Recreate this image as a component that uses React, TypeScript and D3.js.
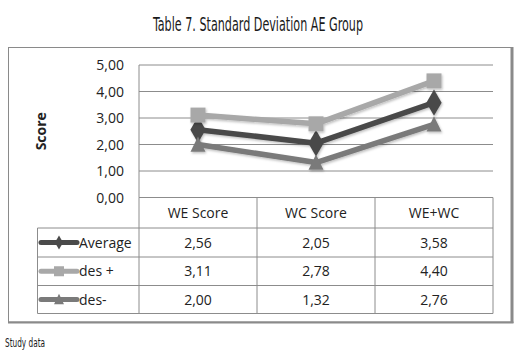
import React from "react";
import * as d3 from "d3";

const categories = ["WE Score", "WC Score", "WE+WC"];
const seriesNames = ["Average", "des +", "des-"];
const averageValues = [2.56, 2.05, 3.58];
const desPlusValues = [3.11, 2.78, 4.4];
const desMinusValues = [2.0, 1.32, 2.76];
const yTicks = [0, 1, 2, 3, 4, 5];

const seriesValues = [averageValues, desPlusValues, desMinusValues];
const colors = ["#4a4a4a", "#a8a8a8", "#7a7a7a"];
const markers = ["diamond", "square", "triangle"];

const fmt = (v: number) => v.toFixed(2).replace(".", ",");

export default function App() {
  const W = 521, H = 359;
  const plotL = 139, plotR = 493, plotT = 65, plotB = 197.5;
  const x = d3.scaleBand<string>().domain(categories).range([plotL, plotR]);
  const y = d3.scaleLinear().domain([0, 5]).range([plotB, plotT]);
  const rowEdges = [197.5, 228, 257, 285.5, 313.5];
  const legendL = 37.5;
  const font = "Open Sans, 'Noto Sans', sans-serif";
  const line = d3
    .line<number>()
    .x((_, i) => (x(categories[i]) as number) + x.bandwidth() / 2)
    .y((d) => y(d));

  const marker = (type: string, cx: number, cy: number, color: string, s: number, key: string) => {
    if (type === "diamond") {
      const sym = d3.symbol(d3.symbolDiamond, s * s * 0.9)();
      return <path key={key} d={sym as string} transform={`translate(${cx},${cy})`} fill={color} />;
    }
    if (type === "square") {
      return <rect key={key} x={cx - s / 2} y={cy - s / 2} width={s} height={s} fill={color} />;
    }
    const h = s * 0.95;
    return (
      <path
        key={key}
        d={`M${cx},${cy - h / 2 - 1}L${cx + s / 2},${cy + h / 2}L${cx - s / 2},${cy + h / 2}Z`}
        fill={color}
      />
    );
  };

  return (
    <svg
      width={W}
      height={H}
      style={{ position: "absolute", left: 0, top: 0, background: "#fff" }}
    >
      <defs>
        <filter id="sh" x="-20%" y="-20%" width="140%" height="140%">
          <feDropShadow dx="1" dy="1.5" stdDeviation="1.2" floodColor="#000" floodOpacity="0.25" />
        </filter>
      </defs>
      <text
        x={258}
        y={31}
        textAnchor="middle"
        fontFamily="'DejaVu Sans Condensed', 'DejaVu Sans', sans-serif"
        fontStretch="condensed"
        fontSize={19}
        textLength={210}
        lengthAdjust="spacingAndGlyphs"
        fill="#1a1a1a"
      >
        Table 7. Standard Deviation AE Group
      </text>

      {/* outer frame */}
      <rect x={8.5} y={47.5} width={503} height={274.5} fill="none" stroke="#8a8a8a" strokeWidth={1} />
      <line x1={512} y1={47} x2={512} y2={323} stroke="#8a8a8a" strokeWidth={3} />
      <line x1={8} y1={322.5} x2={513.5} y2={322.5} stroke="#8a8a8a" strokeWidth={2} />

      {/* gridlines */}
      {yTicks.map((t) => (
        <line key={t} x1={plotL} x2={plotR} y1={y(t)} y2={y(t)} stroke="#8c8c8c" strokeWidth={1} />
      ))}
      <line x1={plotL} x2={plotL} y1={plotT} y2={plotB} stroke="#8c8c8c" strokeWidth={1} />

      {/* y tick labels */}
      {yTicks.map((t) => (
        <text key={t} x={124} y={y(t) + 5} textAnchor="end" fontFamily={font} fontSize={14} fill="#222">
          {fmt(t)}
        </text>
      ))}
      <text
        transform={`translate(46,${(plotT + plotB) / 2}) rotate(-90)`}
        textAnchor="middle"
        fontFamily={font}
        fontWeight="bold"
        fontSize={14}
        fill="#222"
      >
        Score
      </text>

      {/* series */}
      {seriesValues.map((vals, si) => (
        <g key={si} filter="url(#sh)">
          <path d={line(vals) as string} fill="none" stroke={colors[si]} strokeWidth={5.5} strokeLinejoin="round" />
          {vals.map((v, i) =>
            marker(markers[si], (x(categories[i]) as number) + x.bandwidth() / 2, y(v), colors[si], 15, `${si}-${i}`)
          )}
        </g>
      ))}

      {/* table */}
      <g stroke="#8c8c8c" strokeWidth={1} fill="none">
        {rowEdges.map((ry, i) => (
          <line key={i} x1={i === 0 ? plotL : legendL} x2={plotR} y1={ry} y2={ry} />
        ))}
        <line x1={legendL} x2={legendL} y1={rowEdges[1]} y2={rowEdges[4]} />
        {[plotL, ...categories.map((c) => (x(c) as number) + x.bandwidth())].map((cx, i) => (
          <line key={i} x1={cx} x2={cx} y1={rowEdges[0]} y2={rowEdges[4]} />
        ))}
      </g>
      {categories.map((c) => (
        <text
          key={c}
          x={(x(c) as number) + x.bandwidth() / 2}
          y={(rowEdges[0] + rowEdges[1]) / 2 + 5}
          textAnchor="middle"
          fontFamily={font}
          fontSize={14}
          fill="#222"
        >
          {c}
        </text>
      ))}
      {seriesNames.map((n, si) => {
        const cy = (rowEdges[si + 1] + rowEdges[si + 2]) / 2;
        return (
          <g key={n}>
            <line x1={41} x2={77} y1={cy} y2={cy} stroke={colors[si]} strokeWidth={5} strokeLinecap="round" />
            {marker(markers[si], 59, cy, colors[si], si === 0 ? 8 : 10, `lg${si}`)}
            <text x={79} y={cy + 5} fontFamily={font} fontSize={14} fill="#222">
              {n}
            </text>
            {seriesValues[si].map((v, i) => (
              <text
                key={i}
                x={(x(categories[i]) as number) + x.bandwidth() / 2}
                y={cy + 5}
                textAnchor="middle"
                fontFamily={font}
                fontSize={14}
                fill="#222"
              >
                {fmt(v)}
              </text>
            ))}
          </g>
        );
      })}

      <text
        x={5}
        y={347}
        fontFamily="'DejaVu Sans Condensed', 'DejaVu Sans', sans-serif"
        fontStretch="condensed"
        fontSize={12}
        textLength={40}
        lengthAdjust="spacingAndGlyphs"
        fill="#1a1a1a"
      >
        Study data
      </text>
    </svg>
  );
}
